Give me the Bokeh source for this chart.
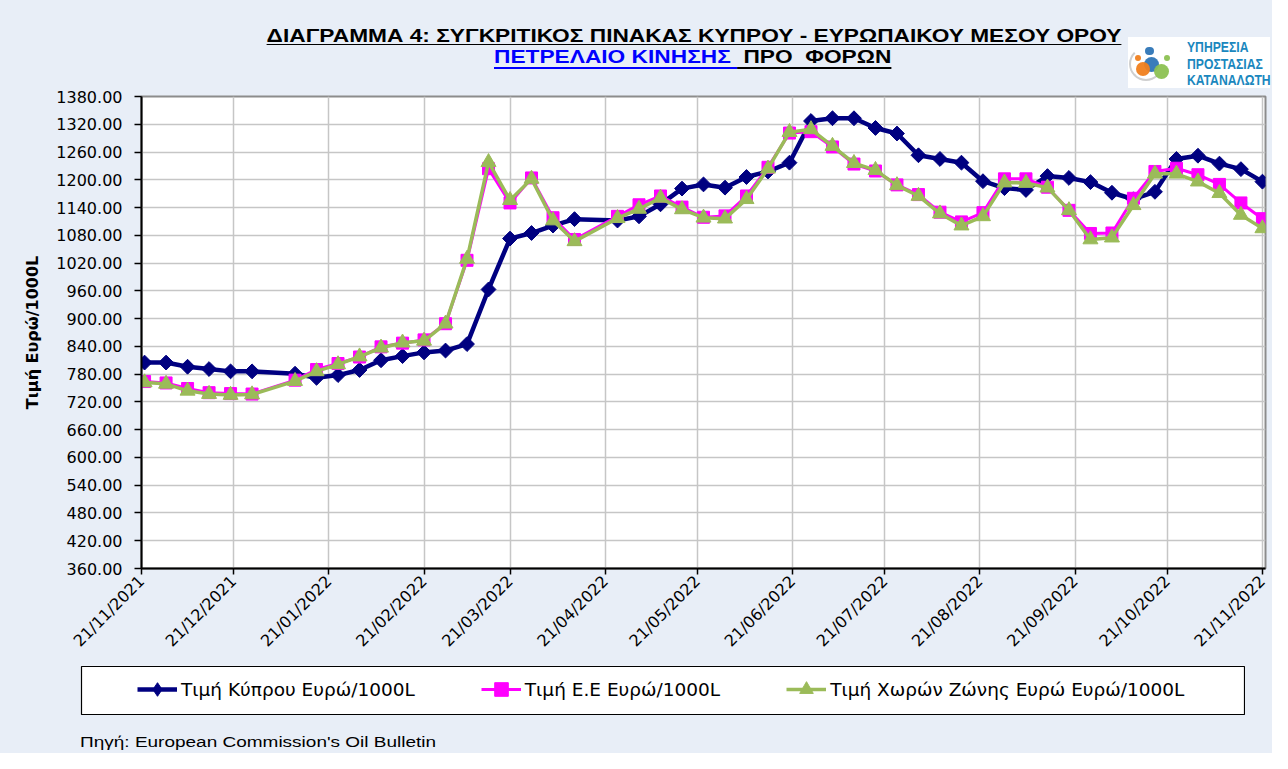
from datetime import datetime
from math import pi
import pandas as pd
from bokeh.plotting import figure
from bokeh.layouts import column, row
from bokeh.models import (Range1d, FixedTicker, NumeralTickFormatter, DatetimeTickFormatter,
                          Legend, LegendItem, ColumnDataSource, Div, Spacer, Grid)
from bokeh.embed import file_html
from bokeh.resources import INLINE

# ---------------- data ----------------
dates = ["2021-11-22", "2021-11-29", "2021-12-06", "2021-12-13", "2021-12-20", "2021-12-27",
         "2022-01-10", "2022-01-17", "2022-01-24", "2022-01-31",
         "2022-02-07", "2022-02-14", "2022-02-21", "2022-02-28",
         "2022-03-07", "2022-03-14", "2022-03-21", "2022-03-28",
         "2022-04-04", "2022-04-11", "2022-04-25",
         "2022-05-02", "2022-05-09", "2022-05-16", "2022-05-23", "2022-05-30",
         "2022-06-06", "2022-06-13", "2022-06-20", "2022-06-27",
         "2022-07-04", "2022-07-11", "2022-07-18", "2022-07-25",
         "2022-08-01", "2022-08-08", "2022-08-15", "2022-08-22", "2022-08-29",
         "2022-09-05", "2022-09-12", "2022-09-19", "2022-09-26",
         "2022-10-03", "2022-10-10", "2022-10-17", "2022-10-24", "2022-10-31",
         "2022-11-07", "2022-11-14", "2022-11-21"]

cyprus = [805, 805, 796, 791, 786, 786,
          781, 772, 778, 789,
          810, 819, 827, 831,
          845, 963, 1073, 1085,
          1101, 1115, 1112,
          1121, 1147, 1181, 1190, 1183,
          1206, 1218, 1237, 1327,
          1333, 1333, 1312, 1300,
          1253, 1245, 1237, 1197, 1182,
          1178, 1208, 1204, 1195,
          1172, 1158, 1174, 1245, 1252,
          1235, 1223, 1196]

eu = [764, 761, 749, 740, 738, 737,
      767, 790, 803, 817,
      839, 847, 854, 889,
      1026, 1224, 1150, 1204,
      1118, 1071, 1121,
      1146, 1165, 1141, 1119, 1122,
      1165, 1227, 1301, 1304,
      1271, 1234, 1219, 1189,
      1168, 1130, 1109, 1129, 1202,
      1202, 1184, 1134, 1084,
      1085, 1160, 1218, 1225, 1211,
      1190, 1150, 1116]

euro_zone = [762, 759, 744, 737, 735, 736,
             765, 786, 801, 818,
             837, 848, 852, 889,
             1029, 1238, 1156, 1202,
             1112, 1067, 1117,
             1137, 1161, 1136, 1118, 1116,
             1158, 1224, 1303, 1309,
             1273, 1236, 1221, 1188,
             1165, 1127, 1101, 1121, 1194,
             1193, 1183, 1134, 1071,
             1075, 1145, 1213, 1213, 1196,
             1171, 1124, 1095]

x_tick_dates = ["2021-11-21", "2021-12-21", "2022-01-21", "2022-02-21", "2022-03-21",
                "2022-04-21", "2022-05-21", "2022-06-21", "2022-07-21", "2022-08-21",
                "2022-09-21", "2022-10-21", "2022-11-21"]
y_ticks = [360, 420, 480, 540, 600, 660, 720, 780, 840, 900, 960, 1020,
           1080, 1140, 1200, 1260, 1320, 1380]

series_labels = ["Τιμή Κύπρου Ευρώ/1000L", "Τιμή Ε.Ε Ευρώ/1000L",
                 "Τιμή Χωρών Ζώνης Ευρώ Ευρώ/1000L"]

title_line1 = "ΔΙΑΓΡΑΜΜΑ 4: ΣΥΓΚΡΙΤΙΚΟΣ ΠΙΝΑΚΑΣ ΚΥΠΡΟΥ - ΕΥΡΩΠΑΙΚΟΥ ΜΕΣΟΥ ΟΡΟΥ"
title_line2a = "ΠΕΤΡΕΛΑΙΟ ΚΙΝΗΣΗΣ"
title_line2b = "ΠΡΟ\u00a0\u00a0ΦΟΡΩΝ"
source_text = "Πηγή: European Commission's Oil Bulletin"
logo_lines = ["ΥΠΗΡΕΣΙΑ", "ΠΡΟΣΤΑΣΙΑΣ", "ΚΑΤΑΝΑΛΩΤΗ"]

# ---------------- styles ----------------
BG = "#E8EEF7"
FONT = "DejaVu Sans"
NAVY, MAG, GRN = "#000080", "#FF00FF", "#9BBB59"
W = 1272

# ---------------- header (title + logo) ----------------
circles = [(1151.3, 64.3, 7.5, "#2E75B6"), (1149.7, 51.0, 4.3, "#2E75B6"),
           (1143.0, 68.5, 7.0, "#F07F1E"), (1138.0, 58.3, 3.0, "#F07F1E"),
           (1161.3, 71.0, 7.5, "#8CC152"), (1167.3, 58.3, 3.0, "#8CC152")]
circle_html = "".join(
    f'<div style="position:absolute;left:{cx - r}px;top:{cy - r}px;width:{2 * r}px;'
    f'height:{2 * r}px;border-radius:50%;background:{c};opacity:0.95;"></div>'
    for cx, cy, r, c in circles)

header_html = f"""
<div style="position:relative;width:{W}px;height:88px;background:{BG};
 font-family:'Liberation Sans',Arial,sans-serif;overflow:hidden;">
 <div style="position:absolute;left:694px;top:25px;line-height:21px;font-size:18.5px;
  font-weight:bold;color:#000;white-space:nowrap;transform:translateX(-50%) scaleX(1.228);
  text-decoration:underline;text-decoration-thickness:1.4px;text-underline-offset:2px;">{title_line1}</div>
 <div style="position:absolute;left:494px;top:46px;line-height:21px;font-size:18.5px;
  font-weight:bold;white-space:nowrap;transform-origin:0 0;transform:scaleX(1.228);">
  <span style="color:#0000FF;text-decoration:underline;text-decoration-thickness:2px;
   text-underline-offset:4px;">{title_line2a}&nbsp;</span><span style="color:#000;
   text-decoration:underline;text-decoration-thickness:2px;text-underline-offset:4px;">&nbsp;{title_line2b}</span>
 </div>
 <div style="position:absolute;left:1128px;top:37px;width:142px;height:51px;background:#fff;"></div>
 <div style="position:absolute;left:1129px;top:47px;width:34px;height:34px;border-radius:50%;
  border:2px solid transparent;border-left-color:#CFCFCF;border-bottom-color:#CFCFCF;"></div>
 {circle_html}
 <div style="position:absolute;left:1187px;top:39px;font-size:14.5px;line-height:16.5px;
  font-weight:bold;color:#1A87BE;white-space:nowrap;transform-origin:0 0;transform:scaleX(0.84);">
  {logo_lines[0]}<br>{logo_lines[1]}<br>{logo_lines[2]}</div>
</div>"""

header = Div(text=header_html, width=W, height=88, margin=0,
             styles={"background-color": BG})

# ---------------- main chart ----------------
src = ColumnDataSource(dict(x=pd.to_datetime(dates), cy=cyprus, eu=eu, ez=euro_zone))

p = figure(width=W, height=577, x_axis_type="datetime",
           x_range=Range1d(datetime(2021, 11, 21), datetime(2022, 11, 22)),
           y_range=Range1d(360, 1380),
           output_backend="svg", toolbar_location=None,
           min_border_left=141, min_border_right=7, min_border_top=8, min_border_bottom=97,
           background_fill_color="white", border_fill_color=BG,
           outline_line_color="#8C8C8C", outline_line_width=2, margin=0)

x_ticks_ms = [int(pd.Timestamp(d).timestamp() * 1000) for d in x_tick_dates]

p.yaxis.ticker = FixedTicker(ticks=y_ticks)
p.ygrid.ticker = FixedTicker(ticks=y_ticks)
p.yaxis.formatter = NumeralTickFormatter(format="0.00")
p.xaxis.ticker = FixedTicker(ticks=x_ticks_ms)
p.xgrid.ticker = FixedTicker(ticks=x_ticks_ms)
fmt = "%d/%m/%Y"
p.xaxis.formatter = DatetimeTickFormatter(days=fmt, months=fmt, years=fmt, hours=fmt,
                                          hourmin=fmt, minutes=fmt, minsec=fmt,
                                          seconds=fmt, milliseconds=fmt, microseconds=fmt)
p.xaxis.major_label_orientation = pi / 4

for ax in (p.xaxis, p.yaxis):
    ax.axis_line_color = "black"
    ax.axis_line_width = 2
    ax.major_tick_line_color = "black"
    ax.major_tick_line_width = 1.5
    ax.major_tick_in = 0
    ax.minor_tick_line_color = None
    ax.major_label_text_font = FONT
    ax.major_label_text_font_size = "16px"
    ax.major_label_text_color = "black"

p.yaxis.major_tick_out = 7
p.yaxis.major_label_standoff = 12
p.xaxis.major_tick_out = 6
p.xaxis.major_label_standoff = 4

p.yaxis.axis_label = "Τιμή Ευρώ/1000L"
p.yaxis.axis_label_text_font = FONT
p.yaxis.axis_label_text_font_style = "bold"
p.yaxis.axis_label_text_font_size = "16px"
p.yaxis.axis_label_text_color = "black"
p.yaxis.axis_label_standoff = 11

p.grid.grid_line_color = "#C6C6C6"
p.grid.grid_line_width = 1.5

p.line("x", "cy", source=src, line_color=NAVY, line_width=4.5)
p.scatter("x", "cy", source=src, marker="square", angle=pi / 4, size=10.5,
          fill_color=NAVY, line_color=NAVY)
p.line("x", "eu", source=src, line_color=MAG, line_width=3)
p.scatter("x", "eu", source=src, marker="square", size=12, fill_color=MAG, line_color=MAG)
p.line("x", "ez", source=src, line_color=GRN, line_width=3.5)
p.scatter("x", "ez", source=src, marker="triangle", size=15, fill_color=GRN, line_color=GRN)

# ---------------- legend (own boxed panel) ----------------
# The legend panel re-uses the same series; its own ranges keep the marks out of view,
# only the legend swatches are shown.
lg = figure(width=1165, height=50, x_range=Range1d(0, 1), y_range=Range1d(0, 1),
            output_backend="svg", toolbar_location=None, min_border=1,
            x_axis_location=None, y_axis_location=None,
            background_fill_color="white", border_fill_color="white",
            outline_line_color="black", outline_line_width=1.2, margin=0)
for r in list(lg.center) + list(lg.renderers):
    if isinstance(r, Grid):
        r.visible = False
lg.xgrid.visible = False
lg.ygrid.visible = False

items = []
for lab, col_name, col, mk, lw in [(series_labels[0], "cy", NAVY, "diamond", 4.5),
                                   (series_labels[1], "eu", MAG, "square", 3),
                                   (series_labels[2], "ez", GRN, "triangle", 3.5)]:
    rl = lg.line("x", col_name, source=src, line_color=col, line_width=lw)
    rm = lg.scatter("x", col_name, source=src, marker=mk, fill_color=col, line_color=col)
    items.append(LegendItem(label=lab, renderers=[rl, rm]))

legend = Legend(items=items, orientation="horizontal", location=(48, 0),
                glyph_width=40, glyph_height=34, label_standoff=4, spacing=66,
                padding=8, margin=0, background_fill_alpha=0, border_line_alpha=0,
                label_text_font=FONT, label_text_font_size="18.5px",
                label_text_color="black", label_text_baseline="middle")
lg.add_layout(legend)

legend_row = row(Spacer(width=80, height=50, margin=0, styles={"background-color": BG}),
                 lg,
                 Spacer(width=W - 80 - 1165, height=50, margin=0,
                        styles={"background-color": BG}),
                 spacing=0, margin=0, styles={"background-color": BG})

# ---------------- footer ----------------
footer_html = f"""
<div style="position:relative;width:{W}px;height:38px;background:{BG};overflow:hidden;">
 <div style="position:absolute;left:80px;top:18px;font-family:'Liberation Sans',Arial,sans-serif;
  font-size:15.5px;line-height:18px;color:#000;white-space:nowrap;transform-origin:0 0;
  transform:scaleX(1.225);">{source_text}</div>
</div>"""
footer = Div(text=footer_html, width=W, height=38, margin=0,
             styles={"background-color": BG})

layout = column(header, p, legend_row, footer, spacing=0, margin=0,
                styles={"background-color": BG})

open("out.html", "w").write(file_html(layout, INLINE))
